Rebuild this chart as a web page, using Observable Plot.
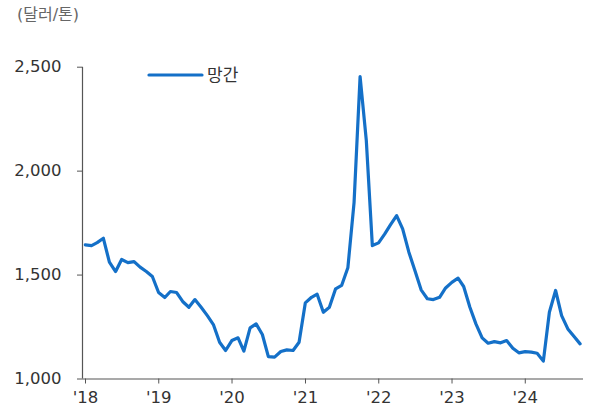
<!DOCTYPE html>
<html lang="ko">
<head>
<meta charset="utf-8">
<script src="https://cdn.jsdelivr.net/npm/d3@7"></script>
<script src="https://cdn.jsdelivr.net/npm/@observablehq/plot@0.6"></script>
<style>
  body { margin: 0; background: #fff; font-family: "DejaVu Sans", "Noto Sans CJK KR", sans-serif; }
  #wrap { position: relative; width: 605px; }
  #unit { height: 30px; padding-left: 17px; font-size: 16px; line-height: 30px; color: #666; }
</style>
</head>
<body>
<div id="wrap">
  <div id="unit">(달러/톤)</div>
  <div id="chart"></div>
</div>
<script>
// Monthly manganese price, USD per tonne, Jan 2018 – Oct 2024
const seriesName = "망간";
const startMonth = "2018-01";
const prices = [
  // 2018
  1645, 1642, 1656, 1677, 1562, 1517, 1575, 1560, 1565, 1538, 1517, 1493,
  // 2019
  1416, 1392, 1421, 1416, 1373, 1345, 1382, 1345, 1305, 1262, 1177, 1137,
  // 2020
  1185, 1198, 1134, 1246, 1265, 1214, 1108, 1105, 1132, 1140, 1137, 1177,
  // 2021
  1366, 1393, 1408, 1321, 1345, 1434, 1450, 1535, 1850, 2455, 2147, 1642,
  // 2022
  1655, 1698, 1741, 1786, 1722, 1610, 1522, 1429, 1386, 1382, 1393, 1438,
  // 2023
  1465, 1485, 1445, 1345, 1265, 1198, 1172, 1180, 1174, 1185, 1148, 1126,
  // 2024
  1132, 1129, 1124, 1086, 1321, 1426, 1305, 1241, 1204, 1169
];
const yTicks = [1000, 1500, 2000, 2500];
const yearTicks = ["2018", "2019", "2020", "2021", "2022", "2023", "2024"];

const lineColor = "#1470c8";
const axisColor = "#555";
const textColor = "#333";
const fontStack = "'DejaVu Sans', 'Noto Sans CJK KR', sans-serif";

// monthly averages are placed at mid-month
const first = d3.utcParse("%Y-%m")(startMonth);
const data = prices.map((v, i) => ({
  date: d3.utcDay.offset(d3.utcMonth.offset(first, i), 14),
  value: v
}));

const xDomain = [first, d3.utcMonth.offset(first, 82)];

const chart = Plot.plot({
  width: 605,
  height: 377,
  marginTop: 36.7,
  marginBottom: 28.5,
  marginLeft: 82,
  marginRight: 22,
  style: { fontFamily: fontStack, fontSize: "16.5px", color: textColor, background: "#fff" },
  x: { type: "utc", domain: xDomain },
  y: { domain: [1000, 2500] },
  marks: [
    Plot.axisY({
      ticks: yTicks,
      tickFormat: d3.format(","),
      tickSize: 5,
      tickPadding: 16,
      stroke: axisColor,
      fill: textColor,
      fontSize: 16.5,
      label: null
    }),
    Plot.axisX({
      ticks: yearTicks.map(d => d3.utcParse("%Y")(d)),
      tickFormat: d => "'" + d3.utcFormat("%y")(d),
      tickSize: 5,
      tickPadding: 7,
      stroke: axisColor,
      fill: textColor,
      fontSize: 16.5,
      dx: 3,
      label: null
    }),
    Plot.ruleX([xDomain[0]], { stroke: axisColor, strokeWidth: 1.2 }),
    Plot.ruleY([1000], { stroke: axisColor, strokeWidth: 1.2 }),
    Plot.lineY(data, {
      x: "date",
      y: "value",
      stroke: lineColor,
      strokeWidth: 3.2,
      strokeLinejoin: "round",
      strokeLinecap: "round"
    })
  ]
});

// legend inside the plot area
const svg = d3.select(chart);
const lg = svg.append("g").attr("transform", "translate(149,45)");
lg.append("line")
  .attr("x1", 0).attr("x2", 53).attr("y1", 0).attr("y2", 0)
  .attr("stroke", lineColor).attr("stroke-width", 3.2).attr("stroke-linecap", "round");
lg.append("text")
  .attr("x", 58).attr("y", 0).attr("dy", "0.35em")
  .attr("text-anchor", "start")
  .attr("fill", textColor)
  .attr("font-family", "'Noto Sans CJK KR', sans-serif")
  .attr("font-size", 17)
  .text(seriesName);

document.getElementById("chart").appendChild(chart);
</script>
</body>
</html>
